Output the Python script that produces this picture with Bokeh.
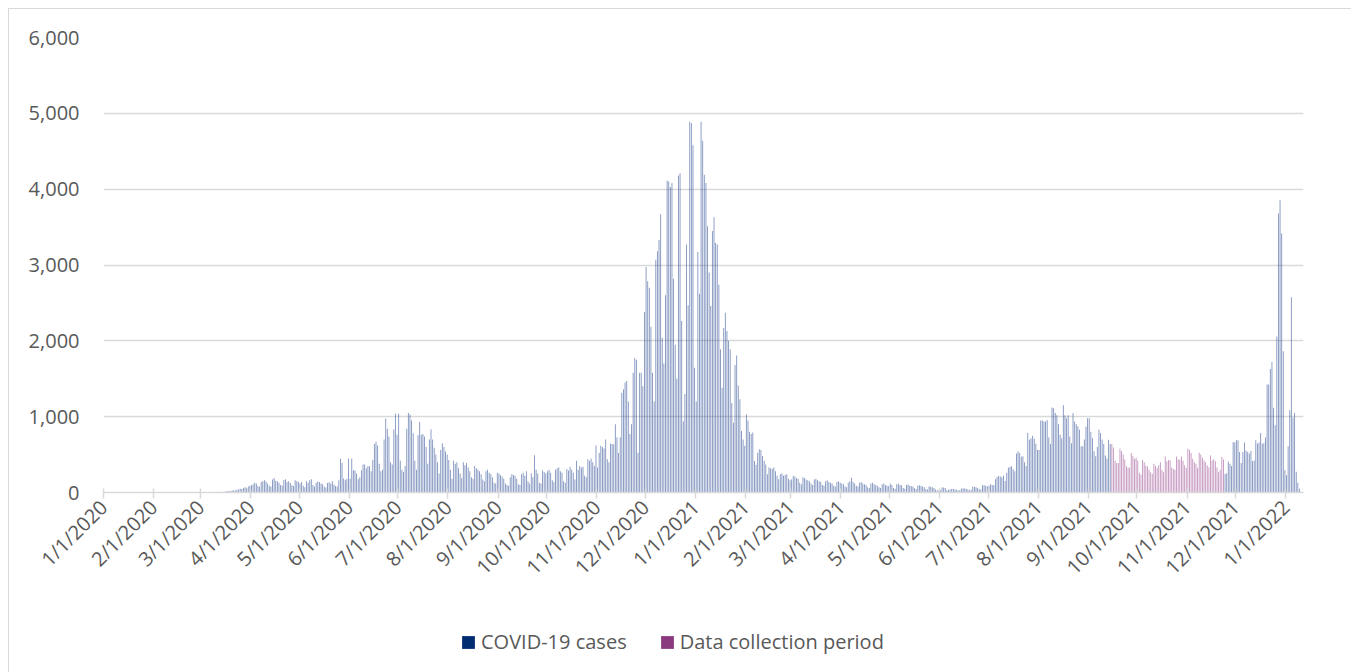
import math
import pandas as pd
from bokeh.plotting import figure
from bokeh.layouts import column
from bokeh.models import (ColumnDataSource, FixedTicker, NumeralTickFormatter,
                          Legend, LegendItem, Range1d)
from bokeh.embed import file_html
from bokeh.resources import INLINE

# ---------------- data (daily COVID-19 cases) ----------------
start_date = "2020-01-01"
collection_start = "2021-09-15"
collection_end = "2021-11-23"

jan20 = [0] * 31
feb20 = [0] * 29
mar20 = [0] * 8 + [2, 3, 5, 4, 8, 10, 6, 12, 15, 20, 18, 25, 30, 28, 35, 40, 50, 45, 60, 70, 55, 80, 90]
apr20 = [95, 110, 130, 120, 85, 75, 140, 150, 160, 145, 120, 90, 80, 170, 190, 155, 150, 130, 100, 90,
         165, 175, 140, 150, 125, 95, 85, 160, 150, 140]
may20 = [120, 140, 90, 70, 150, 130, 160, 175, 100, 80, 130, 145, 140, 120, 110, 75, 65, 125, 135, 120,
         150, 105, 85, 80, 160, 445, 390, 185, 160, 180, 450]
jun20 = [180, 450, 295, 290, 250, 175, 200, 295, 370, 370, 320, 350, 345, 280, 430, 640, 670, 620, 380, 280,
         300, 700, 975, 840, 740, 400, 370, 830, 1040, 760]
jul20 = [1040, 420, 300, 270, 350, 840, 1050, 1030, 950, 780, 420, 300, 755, 930, 760, 770, 740, 600, 380, 700,
         830, 700, 590, 500, 400, 250, 560, 650, 600, 540, 500]
aug20 = [430, 300, 180, 420, 380, 400, 320, 250, 190, 400, 360, 390, 330, 280, 200, 180, 350, 320, 300, 280,
         240, 170, 150, 280, 300, 260, 240, 200, 130, 120, 260]
sep20 = [250, 230, 210, 180, 120, 100, 90, 200, 240, 230, 220, 180, 110, 100, 240, 260, 220, 280, 150, 120,
         250, 200, 490, 300, 250, 130, 120, 290, 270, 250]
oct20 = [280, 300, 260, 160, 140, 300, 320, 330, 280, 260, 150, 130, 310, 290, 340, 300, 260, 170, 420, 300,
         350, 330, 340, 220, 200, 440, 420, 450, 400, 350, 620]
nov20 = [330, 520, 615, 600, 580, 700, 440, 400, 645, 640, 636, 900, 725, 520, 730, 1315, 1360, 1450, 1470, 1200,
         770, 900, 1580, 1775, 1750, 525, 1580, 1580, 1400, 2380]
dec20 = [2975, 2785, 2700, 2185, 1580, 1200, 3070, 3180, 3330, 3670, 2040, 1700, 2600, 4110, 4100, 4030, 4080,
         2820, 1950, 1500, 4180, 4210, 2260, 940, 1300, 3270, 2470, 4890, 4870, 4580, 1645]
jan21 = [1200, 3170, 2620, 4890, 4640, 4190, 4080, 3510, 2900, 2460, 3450, 3630, 3290, 3270, 2740, 1890, 1380,
         2170, 2370, 2130, 2000, 1890, 1180, 920, 1680, 1805, 1410, 1230, 810, 700, 615]
feb21 = [1030, 950, 800, 770, 790, 415, 365, 525, 570, 560, 480, 420, 370, 240, 330, 320, 310, 330, 280, 220,
         175, 240, 250, 220, 230, 240, 180, 160]
mar21 = [175, 220, 210, 190, 180, 130, 110, 200, 190, 170, 160, 150, 120, 100, 170, 180, 160, 150, 140, 100,
         90, 150, 160, 140, 130, 120, 90, 80, 140, 150, 130]
apr21 = [120, 110, 80, 70, 130, 150, 195, 140, 120, 90, 80, 130, 140, 120, 110, 100, 70, 60, 120, 130,
         110, 100, 90, 70, 60, 110, 120, 100, 90, 85]
may21 = [120, 100, 60, 50, 110, 115, 100, 95, 60, 50, 100, 105, 90, 85, 80, 55, 45, 90, 95, 85,
         80, 70, 45, 40, 80, 75, 70, 60, 40, 30, 25]
jun21 = [30, 65, 65, 60, 30, 35, 40, 45, 45, 40, 35, 25, 30, 50, 55, 52, 50, 40, 30, 35,
         78, 75, 70, 60, 45, 40, 96, 96, 90, 80]
jul21 = [90, 110, 100, 95, 175, 205, 217, 210, 200, 225, 152, 260, 326, 340, 345, 305, 280, 513, 543, 522,
         470, 478, 400, 350, 783, 696, 717, 748, 709, 643, 560]
aug21 = [560, 948, 948, 935, 935, 957, 726, 640, 1120, 1110, 1050, 1020, 900, 760, 717, 1150, 1020, 980, 1020, 740,
         650, 1050, 935, 900, 870, 826, 610, 610, 700, 870, 980]
sep21 = [980, 800, 717, 543, 478, 600, 826, 783, 700, 640, 487, 450, 696, 640, 640, 595, 420, 390, 390, 578,
         547, 500, 435, 350, 325, 330, 520, 480, 445, 458]
oct21 = [422, 260, 235, 430, 400, 355, 342, 300, 267, 245, 378, 350, 325, 360, 400, 300, 267, 475, 413, 430,
         422, 330, 311, 300, 475, 440, 430, 475, 420, 360, 325]
nov21 = [578, 560, 520, 445, 400, 380, 325, 524, 500, 458, 422, 400, 355, 330, 489, 422, 440, 413, 330, 267,
         300, 467, 435, 245, 250, 409, 378, 350, 667, 660]
dec21 = [689, 690, 533, 390, 533, 658, 555, 535, 513, 548, 412, 422, 690, 645, 660, 785, 645, 650, 724, 1425,
         1425, 1630, 1720, 1118, 886, 2057, 3680, 3855, 3417, 1864, 294]
jan22 = [228, 610, 1083, 2575, 987, 1048, 272, 130, 50]

tick_labels = ["1/1/2020", "2/1/2020", "3/1/2020", "4/1/2020", "5/1/2020", "6/1/2020", "7/1/2020",
               "8/1/2020", "9/1/2020", "10/1/2020", "11/1/2020", "12/1/2020", "1/1/2021", "2/1/2021",
               "3/1/2021", "4/1/2021", "5/1/2021", "6/1/2021", "7/1/2021", "8/1/2021", "9/1/2021",
               "10/1/2021", "11/1/2021", "12/1/2021", "1/1/2022"]
y_ticks = [0, 1000, 2000, 3000, 4000, 5000, 6000]
series_names = ["COVID-19 cases", "Data collection period"]

# ---------------- build table ----------------
cases = (jan20 + feb20 + mar20 + apr20 + may20 + jun20 + jul20 + aug20 + sep20 + oct20 + nov20 + dec20 +
         jan21 + feb21 + mar21 + apr21 + may21 + jun21 + jul21 + aug21 + sep21 + oct21 + nov21 + dec21 + jan22)
dates = pd.date_range(start_date, periods=len(cases), freq="D")
t0 = pd.Timestamp(start_date)
day = [(d - t0).days + 0.5 for d in dates]
in_coll = [(d >= pd.Timestamp(collection_start)) and (d <= pd.Timestamp(collection_end)) for d in dates]

blue_src = ColumnDataSource(dict(x=[x for x, c in zip(day, in_coll) if not c],
                                 y=[v for v, c in zip(cases, in_coll) if not c]))
purple_src = ColumnDataSource(dict(x=[x for x, c in zip(day, in_coll) if c],
                                   y=[v for v, c in zip(cases, in_coll) if c]))

tick_dates = [pd.Timestamp(f"{l.split('/')[2]}-{l.split('/')[0]}-1") for l in tick_labels]
tick_pos = [(d - t0).days for d in tick_dates]

NAVY = "#2A4A92"
PURPLE = "#9A4C92"
LEG_NAVY = "#002D72"
LEG_PURPLE = "#8B3A80"
TXT = "#595959"
GRID = "#D9D9D9"
FONT = "Open Sans"

W = 1342
p = figure(width=W, height=600, output_backend="svg", toolbar_location=None,
           x_range=Range1d(0, 742), y_range=Range1d(0, 6000))
p.min_border_left = 94
p.min_border_right = 48
p.min_border_top = 28
p.min_border_bottom = 117
p.outline_line_color = None
p.background_fill_color = "white"
p.border_fill_color = "white"

p.vbar(x="x", top="y", width=0.55, source=blue_src, fill_color=NAVY, fill_alpha=0.6, line_color=None)
p.vbar(x="x", top="y", width=0.55, source=purple_src, fill_color=PURPLE, fill_alpha=0.6, line_color=None)

# axes
p.xgrid.grid_line_color = None
p.ygrid.grid_line_color = GRID
p.ygrid.grid_line_width = 1.5
p.yaxis.ticker = FixedTicker(ticks=y_ticks)
p.yaxis.formatter = NumeralTickFormatter(format="0,0")
p.yaxis.axis_line_color = None
p.yaxis.major_tick_line_color = None
p.yaxis.minor_tick_line_color = None
p.yaxis.major_label_standoff = 18
p.yaxis.major_label_text_font = FONT
p.yaxis.major_label_text_font_size = "20px"
p.yaxis.major_label_text_color = TXT

p.xaxis.ticker = FixedTicker(ticks=tick_pos)
p.xaxis.major_label_overrides = {pos: lab for pos, lab in zip(tick_pos, tick_labels)}
p.xaxis.axis_line_color = GRID
p.xaxis.axis_line_width = 1.5
p.xaxis.major_tick_line_color = GRID
p.xaxis.major_tick_line_width = 1.5
p.xaxis.major_tick_in = 4
p.xaxis.major_tick_out = 6
p.xaxis.minor_tick_line_color = None
p.xaxis.major_label_orientation = math.pi / 4
p.xaxis.major_label_standoff = 5
p.xaxis.major_label_text_font = FONT
p.xaxis.major_label_text_font_size = "20px"
p.xaxis.major_label_text_color = TXT

# ---------------- legend strip ----------------
lf = figure(width=W, height=63, output_backend="svg", toolbar_location=None,
            x_range=Range1d(0, 1), y_range=Range1d(0, 1), x_axis_type=None, y_axis_type=None)
lf.min_border = 0
lf.outline_line_color = None
lf.xgrid.grid_line_color = None
lf.ygrid.grid_line_color = None
# proxy renderers placed outside the visible range so only the legend swatch shows
lg_blue = lf.quad(left=[-10], right=[-9], bottom=[-10], top=[-9], fill_color=LEG_NAVY, line_color=None)
lg_purple = lf.quad(left=[-10], right=[-9], bottom=[-10], top=[-9], fill_color=LEG_PURPLE, line_color=None)
legend = Legend(items=[LegendItem(label=series_names[0], renderers=[lg_blue]),
                       LegendItem(label=series_names[1], renderers=[lg_purple])],
                orientation="horizontal", location=(357, 17),
                glyph_width=16, glyph_height=16, label_standoff=5, spacing=32,
                padding=0, margin=0, border_line_color=None, background_fill_alpha=0,
                label_text_font=FONT, label_text_font_size="20px", label_text_color=TXT)
lf.add_layout(legend, "center")

layout = column(p, lf, spacing=0,
                styles={"margin-left": "8px", "margin-top": "8px",
                        "border-left": "1px solid #D9D9D9", "border-top": "1px solid #D9D9D9"})

open("out.html", "w").write(file_html(layout, INLINE))
